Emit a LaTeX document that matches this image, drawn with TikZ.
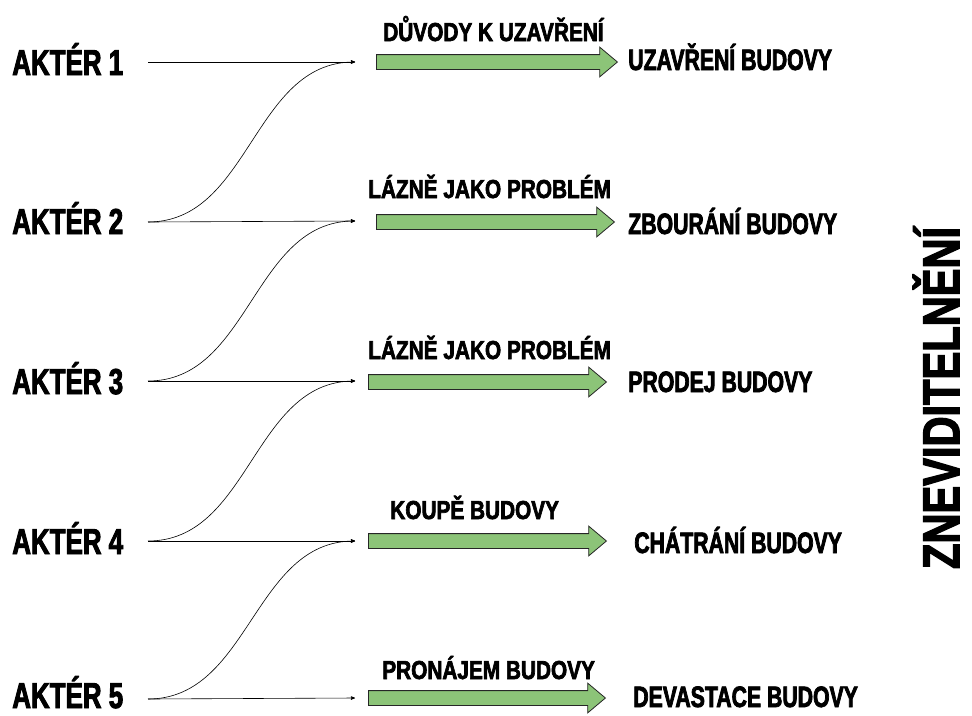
\documentclass[tikz,border=0pt]{standalone}
\usepackage{fontspec}
\usepackage{tikz}
\usetikzlibrary{arrows,shapes.arrows,positioning}

\newfontfamily\impactnarrow[FakeStretch=0.72,FakeBold=2.5]{Liberation Sans}
\newfontfamily\impactwide[FakeStretch=0.8,FakeBold=2.5]{Liberation Sans}
\definecolor{grfill}{RGB}{140,196,120}

\begin{document}
\begin{tikzpicture}[->,>=stealth',semithick,x=1pt,y=-1pt]
	  \tikzstyle{actor}=[anchor=base west,inner sep=0pt,font=\impactnarrow\bfseries\fontsize{36}{36}\selectfont]
	  \tikzstyle{outcome}=[anchor=base west,inner sep=0pt,font=\impactnarrow\bfseries\fontsize{29.5}{30}\selectfont]
	  \tikzstyle{cause}=[anchor=base west,inner sep=0pt,font=\impactwide\bfseries\fontsize{26}{26}\selectfont]
	  \tikzstyle{grarrow}=[single arrow,draw=black!85,fill=grfill,line width=0.8pt,
	                       single arrow head extend=7.5pt,single arrow tip angle=80,
	                       inner xsep=0pt,inner ysep=7pt,minimum width=29pt,minimum height=#1,anchor=west]

	  \useasboundingbox (0,0) rectangle (972,715);

	  \node[actor]   (A1) at (12,75)  {AKTÉR 1};
	  \node[actor]   (A2) at (12,234) {AKTÉR 2};
	  \node[actor]   (A3) at (12,394) {AKTÉR 3};
	  \node[actor]   (A4) at (12,554) {AKTÉR 4};
	  \node[actor]   (A5) at (12,708) {AKTÉR 5};

	  \coordinate (S1) at (148,62);
	  \coordinate (S2) at (148,222);
	  \coordinate (S3) at (148,381);
	  \coordinate (S4) at (148,541);
	  \coordinate (S5) at (148,699);

	  \coordinate (T1) at (355,62);
	  \coordinate (T2) at (355,221);
	  \coordinate (T3) at (355,381);
	  \coordinate (T4) at (355,541);
	  \coordinate (T5) at (355,698);

	  \node[grarrow=241pt] (G1) at (376,62)  {};
	  \node[grarrow=238pt] (G2) at (376,222) {};
	  \node[grarrow=238pt] (G3) at (368,382) {};
	  \node[grarrow=238pt] (G4) at (368,541) {};
	  \node[grarrow=237pt] (G5) at (368,698) {};

	  \node[cause] (C1) at (383,41)  {DŮVODY K UZAVŘENÍ};
	  \node[cause] (C2) at (368,198) {LÁZNĚ JAKO PROBLÉM};
	  \node[cause] (C3) at (368,359) {LÁZNĚ JAKO PROBLÉM};
	  \node[cause] (C4) at (390,519) {KOUPĚ BUDOVY};
	  \node[cause] (C5) at (382,679) {PRONÁJEM BUDOVY};

	  \node[outcome] (O1) at (628,70)  {UZAVŘENÍ BUDOVY};
	  \node[outcome] (O2) at (628,234) {ZBOURÁNÍ BUDOVY};
	  \node[outcome] (O3) at (628,392) {PRODEJ BUDOVY};
	  \node[outcome] (O4) at (634,553) {CHÁTRÁNÍ BUDOVY};
	  \node[outcome] (O5) at (633,707) {DEVASTACE BUDOVY};

	  \node[rotate=90,inner sep=0pt,font=\impactwide\bfseries\fontsize{52}{52}\selectfont]
	       (Z) at (936,398) {ZNEVIDITELNĚNÍ};

	  \path (S1) edge (T1)
	        (S2) edge (T2)
	             edge [out=0,in=180] (T1)
	        (S3) edge (T3)
	             edge [out=0,in=180] (T2)
	        (S4) edge (T4)
	             edge [out=0,in=180] (T3)
	        (S5) edge (T5)
	             edge [out=0,in=180] (T4);
\end{tikzpicture}
\end{document}
